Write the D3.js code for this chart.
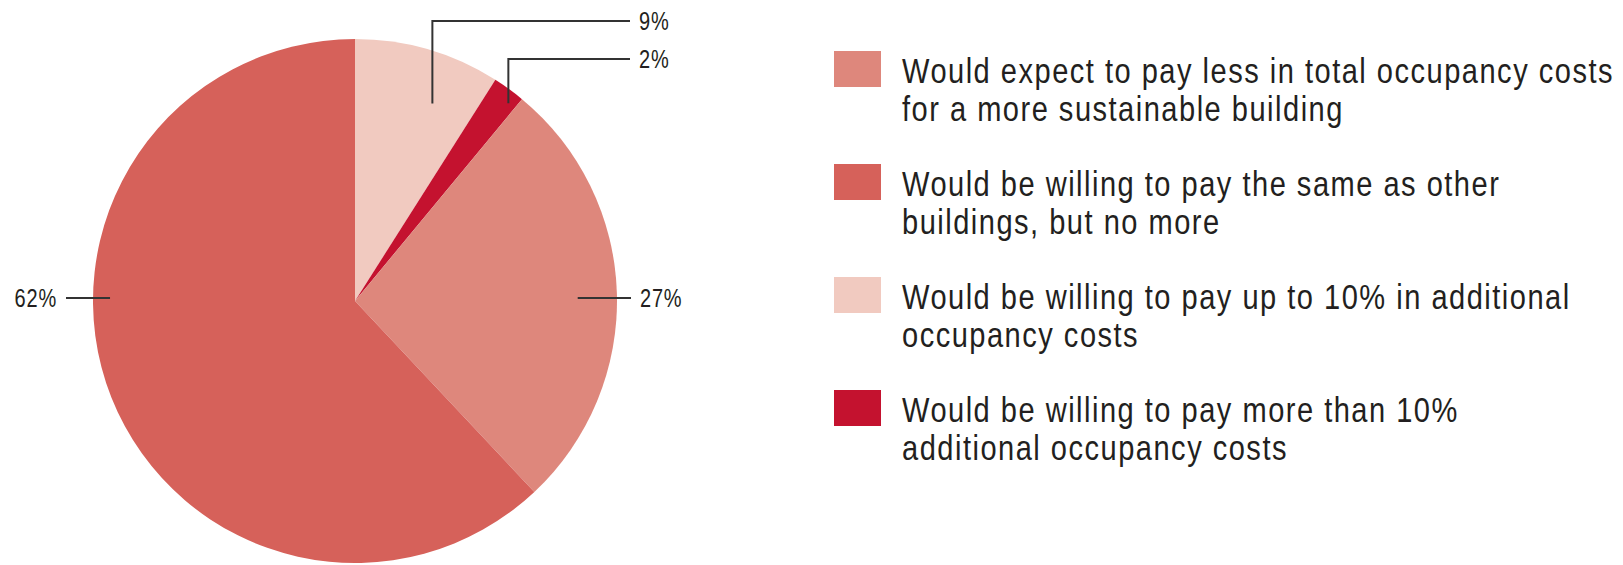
<!DOCTYPE html>
<html>
<head>
<meta charset="utf-8">
<script src="https://cdn.jsdelivr.net/npm/d3@7"></script>
<style>
  html, body { margin: 0; padding: 0; background: #ffffff; }
  svg { display: block; }
  text { font-family: "Liberation Sans", Arial, sans-serif; fill: #231f20; }
</style>
</head>
<body>
<svg id="chart" width="1623" height="565"></svg>
<script>
// Survey responses, listed in legend order
const categories = [
  "Would expect to pay less in total occupancy costs for a more sustainable building",
  "Would be willing to pay the same as other buildings, but no more",
  "Would be willing to pay up to 10% in additional occupancy costs",
  "Would be willing to pay more than 10% additional occupancy costs"
];
const legendLines = [
  ["Would expect to pay less in total occupancy costs", "for a more sustainable building"],
  ["Would be willing to pay the same as other", "buildings, but no more"],
  ["Would be willing to pay up to 10% in additional", "occupancy costs"],
  ["Would be willing to pay more than 10%", "additional occupancy costs"]
];
const values = [27, 62, 9, 2];
const colors = ["#de877c", "#d6615a", "#f1cac0", "#c4122f"];
// Order the slices are drawn clockwise from 12 o'clock
const pieOrder = [2, 3, 0, 1];

const svg = d3.select("#chart");
const cx = 355, cy = 301, R = 262;
// Horizontal squeeze that gives the condensed lettering
const squeeze = 0.8;
const legendSqueeze = 0.83;

const data = pieOrder.map(i => ({ i, value: values[i] }));
const pie = d3.pie().sort(null).value(d => d.value);
const arcs = pie(data);
const arc = d3.arc().innerRadius(0).outerRadius(R);

const g = svg.append("g").attr("transform", `translate(${cx},${cy})`);
g.selectAll("path.slice")
  .data(arcs)
  .join("path")
  .attr("class", "slice")
  .attr("d", arc)
  .attr("fill", d => colors[d.data.i]);

// Leader lines: start inside the slice (fraction along its angle, fraction of radius)
const leaders = {
  2: { t: 0.66, rf: 0.81, kind: "elbow", y: 21, endX: 630 },
  3: { t: 0.75, rf: 0.955, kind: "elbow", y: 59, endX: 630 },
  0: { angle: 90, rf: 0.85, kind: "flat", side: 1, endX: 631 },
  1: { angle: 270, rf: 0.935, kind: "flat", side: -1, endX: 66 }
};
const lineColor = "#333333";
const labelG = svg.append("g");

function squeezedText(parent, x, y, anchor, size, str) {
  return parent.append("text")
    .attr("transform", `translate(${x},${y}) scale(${squeeze},1)`)
    .attr("text-anchor", anchor)
    .attr("font-size", size)
    .attr("letter-spacing", 1)
    .text(str);
}

arcs.forEach(a => {
  const L = leaders[a.data.i];
  let ang;
  if (L.angle !== undefined) ang = L.angle * Math.PI / 180;
  else ang = a.startAngle + (a.endAngle - a.startAngle) * L.t;
  const px = cx + Math.sin(ang) * R * L.rf;
  const py = cy - Math.cos(ang) * R * L.rf;
  const label = values[a.data.i] + "%";
  if (L.kind === "elbow") {
    labelG.append("path")
      .attr("d", `M${px},${py}V${L.y}H${L.endX}`)
      .attr("fill", "none").attr("stroke", lineColor).attr("stroke-width", 2);
    squeezedText(labelG, L.endX + 9, L.y + 9, "start", 25, label);
  } else {
    const ly = py - 3;
    labelG.append("path")
      .attr("d", `M${px},${ly}H${L.endX}`)
      .attr("fill", "none").attr("stroke", lineColor).attr("stroke-width", 2);
    squeezedText(labelG, L.side > 0 ? L.endX + 9 : L.endX - 9, ly + 9,
      L.side > 0 ? "start" : "end", 25, label);
  }
});

// Legend
const legend = svg.append("g").attr("transform", "translate(834,51)");
const rowStep = 113;
const item = legend.selectAll("g.item")
  .data(categories)
  .join("g")
  .attr("class", "item")
  .attr("transform", (d, i) => `translate(0,${i * rowStep})`);
item.append("rect")
  .attr("width", 47).attr("height", 36)
  .attr("fill", (d, i) => colors[i]);
item.each(function(d, i) {
  const sel = d3.select(this);
  legendLines[i].forEach((line, k) => {
    sel.append("text")
      .attr("transform", `translate(68,${32 + k * 38}) scale(${legendSqueeze},1)`)
      .attr("font-size", 35)
      .attr("letter-spacing", 1.8)
      .text(line);
  });
});

// Keep the longest legend line inside the frame
const widest = d3.max(legend.selectAll("text").nodes(), n => n.getBBox().width) * legendSqueeze;
const room = 1614 - 902;
if (widest > room) {
  const s = legendSqueeze * room / widest;
  legend.selectAll("text").each(function() {
    const t = d3.select(this).attr("transform").replace(/scale\([^)]*\)/, `scale(${s},1)`);
    d3.select(this).attr("transform", t);
  });
}
</script>
</body>
</html>
